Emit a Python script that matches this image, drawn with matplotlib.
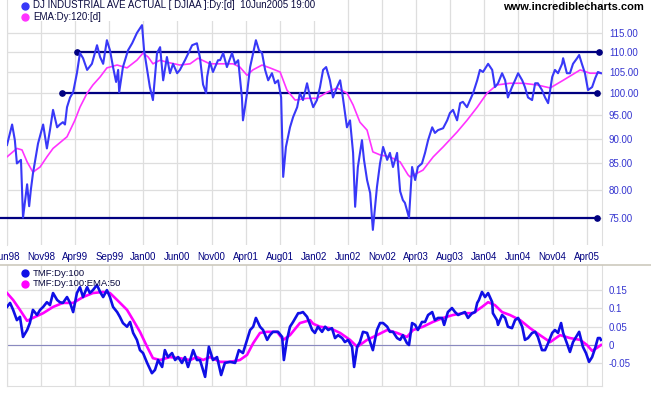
import numpy as np
import matplotlib
matplotlib.use('Agg')
import matplotlib.pyplot as plt
from matplotlib.lines import Line2D
from matplotlib.patches import Rectangle

plt.rcParams['font.family'] = ['Liberation Sans', 'DejaVu Sans']

# x axis = trading days counted from the first bar (Jun 1998), a label every 100 bars
tick_days = [0, 100, 200, 300, 400, 500, 600, 700, 800, 900,
             1000, 1100, 1200, 1300, 1400, 1500, 1600, 1700]
tick_labels = ['Jun98', 'Nov98', 'Apr99', 'Sep99', 'Jan00', 'Jun00', 'Nov00',
               'Apr01', 'Aug01', 'Jan02', 'Jun02', 'Nov02', 'Apr03', 'Aug03',
               'Jan04', 'Jun04', 'Nov04', 'Apr05']

# DJIA (in hundreds)
dj_day = [0, 15, 23, 29, 41, 47, 53, 59, 65, 70, 76, 91, 106, 117, 126, 135, 147, 155,
          164, 170, 176, 185, 194, 205, 214, 223, 235, 249, 264, 273, 282, 293, 302,
          311, 320, 326, 329, 340, 355, 367, 381, 396, 402, 411, 419, 428, 440, 449,
          458, 469, 478, 487, 499, 507, 522, 543, 557, 566, 575, 584, 587, 595, 604,
          619, 625, 634, 645, 660, 669, 678, 689, 692, 698, 704, 713, 722, 730, 739,
          748, 757, 766, 777, 786, 795, 804, 810, 818, 830, 839, 851, 859, 868, 880,
          889, 898, 909, 918, 927, 936, 947, 956, 968, 977, 985, 997, 1006, 1015,
          1021, 1029, 1041, 1047, 1056, 1065, 1073, 1085, 1094, 1103, 1115, 1123,
          1132, 1144, 1153, 1161, 1167, 1179, 1188, 1197, 1205, 1217, 1226, 1235,
          1247, 1255, 1264, 1279, 1291, 1299, 1308, 1320, 1329, 1337, 1349, 1358,
          1367, 1379, 1387, 1396, 1411, 1423, 1431, 1440, 1452, 1461, 1469, 1481,
          1490, 1499, 1511, 1519, 1528, 1540, 1549, 1557, 1569, 1578, 1587, 1599,
          1607, 1616, 1628, 1631, 1642, 1651, 1660, 1672, 1678, 1686, 1695, 1704,
          1716, 1725, 1733, 1742]
dj_close = [88.7, 93.0, 89.7, 85.0, 85.7, 75.0, 78.0, 81.0, 77.0, 80.0, 83.0, 89.0,
            93.0, 88.0, 91.8, 96.2, 92.4, 93.0, 93.5, 93.0, 96.8, 99.0, 100.2, 104.7,
            109.7, 108.4, 105.5, 107.0, 111.7, 108.7, 107.0, 113.0, 110.4, 106.2,
            102.6, 105.5, 100.2, 106.2, 110.4, 112.2, 114.9, 117.0, 110.4, 105.5,
            101.4, 98.4, 109.7, 111.2, 103.0, 108.7, 104.7, 107.0, 104.7, 105.5,
            107.9, 111.7, 112.2, 108.5, 102.0, 100.0, 103.8, 107.5, 105.0, 107.9,
            107.9, 109.7, 106.2, 109.7, 107.0, 107.9, 99.0, 93.9, 96.8, 100.0, 106.2,
            109.7, 113.0, 110.4, 109.7, 105.5, 103.0, 104.7, 102.3, 103.0, 99.0, 82.4,
            88.3, 92.4, 94.6, 96.8, 100.0, 98.4, 102.3, 99.0, 96.8, 98.4, 101.4, 105.5,
            106.2, 103.0, 99.0, 101.4, 103.0, 99.0, 92.4, 93.9, 87.1, 76.9, 84.3, 89.7,
            85.7, 81.8, 79.4, 72.9, 80.5, 85.0, 88.3, 85.7, 87.1, 84.3, 87.1, 79.7,
            78.1, 77.6, 75.0, 84.3, 81.8, 84.3, 85.0, 87.1, 89.7, 92.4, 91.2, 91.8,
            92.2, 93.9, 95.5, 96.2, 93.9, 97.7, 98.0, 96.8, 98.4, 100.0, 103.0, 105.5,
            105.0, 107.0, 105.5, 101.4, 102.3, 104.7, 103.0, 99.0, 101.4, 103.0, 104.7,
            103.0, 101.4, 99.0, 98.4, 102.3, 102.3, 100.7, 99.0, 97.7, 103.8, 105.5,
            104.7, 107.0, 108.4, 104.7, 104.7, 107.0, 108.4, 109.2, 107.0, 104.7,
            100.7, 101.4, 103.5, 105.0, 104.7]

# 120 day EMA
ema_day = [0, 29, 44, 59, 76, 97, 117, 135, 176, 199, 214, 235, 252, 273, 293, 323,
           352, 381, 399, 414, 428, 449, 469, 507, 537, 560, 595, 625, 663, 683, 704,
           721, 748, 771, 801, 821, 845, 880, 909, 939, 968, 997, 1015, 1035, 1056,
           1073, 1094, 1123, 1153, 1176, 1182, 1220, 1250, 1279, 1320, 1349, 1379,
           1408, 1437, 1475, 1513, 1555, 1593, 1631, 1681, 1710, 1742]
ema_val = [86.3, 88.0, 87.7, 85.3, 83.3, 84.3, 86.3, 88.0, 90.4, 93.9, 96.8, 100.0,
           101.9, 103.8, 106.0, 106.7, 106.0, 107.9, 109.7, 108.7, 107.0, 107.9, 107.4,
           106.7, 107.0, 108.4, 107.0, 107.0, 107.0, 106.2, 104.2, 105.5, 106.7, 106.0,
           105.0, 100.7, 98.4, 98.8, 98.8, 100.2, 101.2, 100.0, 97.3, 93.5, 91.8, 87.3,
           86.7, 86.3, 85.3, 82.8, 82.4, 83.7, 86.3, 88.3, 91.4, 93.9, 96.8, 100.0,
           101.9, 102.3, 102.3, 101.9, 101.2, 103.0, 105.5, 104.7, 104.7]

# horizontal support / resistance lines
trend_level = [110, 100, 75]
trend_start = [205, 161, -21]
trend_end = [1736, 1730, 1730]

# Twiggs money flow, 100 day
tmf_day = [0, 9, 18, 29, 38, 47, 59, 67, 76, 88, 97, 106, 117, 126, 135, 147, 155,
           164, 176, 185, 194, 205, 214, 223, 235, 243, 252, 264, 273, 282, 293, 302,
           311, 323, 331, 340, 352, 361, 370, 381, 390, 399, 411, 425, 434, 443, 455,
           463, 472, 484, 493, 502, 513, 522, 531, 546, 557, 566, 581, 592, 604, 616,
           628, 639, 654, 669, 680, 692, 704, 713, 722, 730, 742, 751, 763, 771, 780,
           795, 807, 812, 821, 830, 839, 854, 859, 868, 880, 895, 903, 912, 924, 933,
           942, 953, 962, 971, 983, 991, 1000, 1012, 1018, 1027, 1035, 1044, 1056,
           1065, 1073, 1085, 1094, 1103, 1115, 1123, 1132, 1144, 1153, 1161, 1173,
           1179, 1188, 1197, 1205, 1217, 1226, 1235, 1247, 1255, 1264, 1276, 1282,
           1293, 1305, 1314, 1323, 1335, 1343, 1352, 1364, 1373, 1379, 1384, 1393,
           1402, 1411, 1423, 1425, 1437, 1440, 1452, 1461, 1469, 1481, 1490, 1499,
           1511, 1519, 1528, 1540, 1549, 1557, 1569, 1578, 1587, 1599, 1607, 1616,
           1625, 1631, 1642, 1651, 1660, 1672, 1678, 1689, 1698, 1707, 1716, 1725,
           1733, 1739, 1742]
tmf_val = [0.104, 0.115, 0.096, 0.068, 0.077, 0.022, 0.041, 0.060, 0.096, 0.082,
           0.096, 0.104, 0.117, 0.109, 0.142, 0.123, 0.117, 0.115, 0.131, 0.115,
           0.090, 0.142, 0.158, 0.131, 0.158, 0.142, 0.150, 0.164, 0.145, 0.131,
           0.150, 0.131, 0.104, 0.090, 0.077, 0.060, 0.050, 0.063, 0.033, 0.014,
           -0.014, -0.022, -0.049, -0.077, -0.068, -0.041, -0.060, -0.014, -0.033,
           -0.022, -0.041, -0.033, -0.049, -0.033, -0.060, -0.014, -0.041, -0.041,
           -0.087, -0.005, -0.041, -0.033, -0.082, -0.049, -0.046, -0.049, -0.014,
           -0.022, 0.014, 0.041, 0.050, 0.074, 0.050, 0.041, 0.014, 0.027, 0.036,
           0.036, 0.022, -0.041, 0.014, 0.050, 0.063, 0.087, 0.087, 0.090, 0.077,
           0.041, 0.033, 0.050, 0.036, 0.050, 0.041, 0.046, 0.019, 0.027, 0.019,
           0.008, 0.014, -0.005, -0.060, -0.005, 0.008, 0.036, 0.033, 0.008, -0.014,
           0.041, 0.060, 0.060, 0.050, 0.036, 0.036, 0.019, 0.014, 0.027, 0.005,
           0.000, 0.060, 0.055, 0.041, 0.063, 0.063, 0.082, 0.090, 0.068, 0.074,
           0.074, 0.055, 0.090, 0.101, 0.090, 0.082, 0.087, 0.090, 0.074, 0.087,
           0.090, 0.115, 0.123, 0.145, 0.131, 0.142, 0.117, 0.087, 0.068, 0.055,
           0.082, 0.074, 0.050, 0.046, 0.068, 0.074, 0.050, 0.014, 0.019, 0.033,
           0.036, 0.022, -0.014, -0.014, 0.005, 0.033, 0.041, 0.033, 0.060, 0.033,
           0.005, -0.019, 0.008, 0.027, 0.036, -0.005, -0.022, -0.046, -0.033,
           -0.008, 0.019, 0.019, 0.014]

# 50 day EMA of TMF
tmf_ema_day = [0, 18, 38, 59, 76, 106, 135, 164, 194, 223, 252, 282, 302, 323, 352,
               370, 390, 411, 428, 449, 478, 507, 537, 557, 575, 595, 625, 654, 683,
               704, 722, 742, 763, 792, 810, 830, 859, 889, 898, 918, 947, 977, 1006,
               1027, 1056, 1085, 1115, 1144, 1173, 1191, 1220, 1249, 1279, 1308, 1337,
               1367, 1393, 1411, 1431, 1452, 1475, 1505, 1534, 1563, 1593, 1622, 1651,
               1681, 1701, 1716, 1730, 1742]
tmf_ema_val = [0.142, 0.123, 0.096, 0.066, 0.074, 0.087, 0.104, 0.115, 0.115, 0.131,
               0.142, 0.145, 0.142, 0.123, 0.096, 0.068, 0.036, -0.005, -0.036, -0.041,
               -0.033, -0.036, -0.041, -0.033, -0.041, -0.033, -0.046, -0.046, -0.041,
               -0.027, 0.005, 0.033, 0.036, 0.036, 0.014, 0.027, 0.060, 0.068, 0.058,
               0.050, 0.046, 0.033, 0.014, -0.005, 0.014, 0.027, 0.041, 0.033, 0.022,
               0.041, 0.050, 0.063, 0.074, 0.082, 0.087, 0.087, 0.104, 0.117, 0.109,
               0.090, 0.082, 0.068, 0.046, 0.027, 0.008, 0.027, 0.019, 0.014, 0.000,
               -0.016, -0.008, 0.000]

price_ticks = [75, 80, 85, 90, 95, 100, 105, 110, 115]
tmf_ticks = [-0.05, 0, 0.05, 0.1, 0.15]
tmf_tick_labels = ['-0.05', '0', '0.05', '0.1', '0.15']

grid_col = '#dedede'
tick_col = '#3535d0'
navy = '#000080'
text_col = '#0a0a40'

fig = plt.figure(figsize=(6.51, 3.95), dpi=100)
W, H = 651.0, 395.0

# ---- price panel ----
ax = fig.add_axes([7 / W, 1 - 245 / H, 595 / W, 245 / H])
ax.set_yscale('log')
ax.set_xlim(0, 1745)
ax.set_ylim(70.4, 124.0)
ax.set_axisbelow(True)
ax.grid(True, color=grid_col, lw=0.9)
ax.minorticks_off()
ax.set_yticks(price_ticks)
ax.set_yticklabels(['%.2f' % v for v in price_ticks])
ax.yaxis.tick_right()
ax.set_xticks(tick_days)
ax.set_xticklabels(tick_labels)
ax.tick_params(axis='y', length=0, pad=5, labelsize=7, labelcolor=tick_col)
ax.tick_params(axis='x', length=0, pad=5, labelsize=7, labelcolor=navy)
for s in ['top', 'bottom']:
    ax.spines[s].set_visible(False)
for s in ['left', 'right']:
    ax.spines[s].set_color(grid_col)

# white box behind the legend text
ax.add_patch(Rectangle((0, 1 - 21 / H), 322 / W, 21 / H, transform=fig.transFigure,
                       facecolor='white', edgecolor='none', zorder=1))

for lev, x0, x1 in zip(trend_level, trend_start, trend_end):
    ax.plot([x0, x1], [lev, lev], color=navy, lw=1.6, zorder=3, clip_on=False)
    ax.plot([x1], [lev], 'o', color=navy, ms=3.8, zorder=3)
    if x0 >= 0:
        ax.plot([x0], [lev], 'o', color=navy, ms=3.8, zorder=3)

ax.plot(ema_day, ema_val, color='#ff33ff', lw=1.2, zorder=4)
ax.plot(dj_day, dj_close, color='#3838f8', lw=1.5, zorder=5)

# ---- money flow panel ----
ax2 = fig.add_axes([7 / W, 1 - 386 / H, 595 / W, 121 / H])
ax2.set_xlim(0, 1745)
ax2.set_ylim(-0.112, 0.2186)
ax2.set_axisbelow(True)
ax2.set_xticks(tick_days)
ax2.set_xticklabels([])
ax2.set_yticks(tmf_ticks)
ax2.set_yticklabels(tmf_tick_labels)
ax2.yaxis.tick_right()
ax2.grid(True, color=grid_col, lw=0.9)
ax2.tick_params(axis='both', length=0)
ax2.tick_params(axis='y', pad=5, labelsize=7, labelcolor=tick_col)
ax2.spines['top'].set_visible(False)
for s in ['left', 'right', 'bottom']:
    ax2.spines[s].set_color(grid_col)
ax2.axhline(0, color='#8a8ac0', lw=0.8, zorder=1)

ax2.plot(tmf_ema_day, tmf_ema_val, color='#ff00ff', lw=1.9, zorder=4)
ax2.plot(tmf_day, tmf_val, color='#0f0fe6', lw=1.9, zorder=5)

# separator between the panels
fig.add_artist(Line2D([0, 1], [1 - 264.5 / H, 1 - 264.5 / H], color='#cdc9bd', lw=1.2))

# legends
legend_rows = [
    (5.5, '#3838f8', 'DJ INDUSTRIAL AVE ACTUAL [ DJIAA ]:Dy:[d]  10Jun2005 19:00', 7.0),
    (16.5, '#ff33ff', 'EMA:Dy:120:[d]', 7.0),
    (273.0, '#0f0fe6', 'TMF:Dy:100', 6.8),
    (284.0, '#ff00ff', 'TMF:Dy:100:EMA:50', 6.8),
]
for yy, col, txt, fs in legend_rows:
    fig.add_artist(Line2D([24.5 / W], [1 - yy / H], marker='o', ms=5,
                          color=col, lw=0))
    fig.text(33 / W, 1 - yy / H, txt, fontsize=fs, color=text_col,
             va='center', ha='left', zorder=10)

fig.text(644 / W, 1 - 7.5 / H, 'www.incrediblecharts.com', fontsize=8,
         fontweight='bold', color='black', ha='right', va='center')

fig.savefig('out.png', dpi=100)
